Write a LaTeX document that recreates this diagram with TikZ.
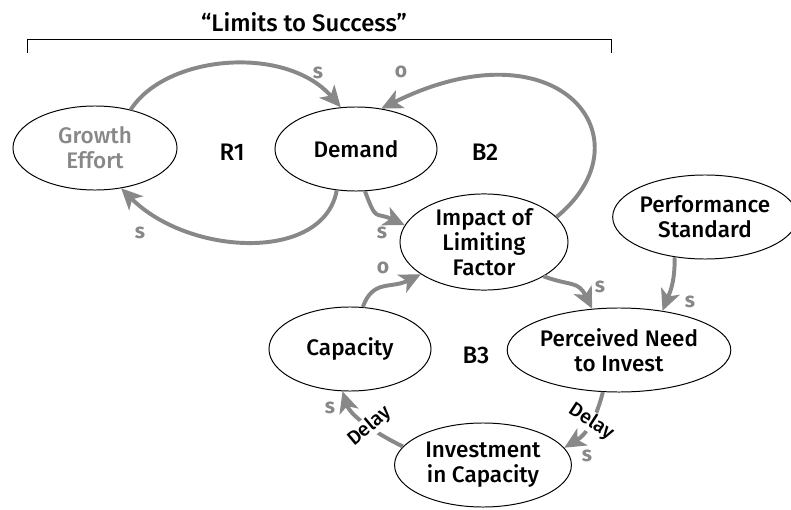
\documentclass[tikz,border=0pt]{standalone}
\usepackage{fontspec}
\setmainfont{Fira Sans}[UprightFont={* Medium}, BoldFont={* Bold}]
\usetikzlibrary{shapes.geometric,arrows.meta}
\definecolor{loopGray}{RGB}{136,136,136}
\tikzset{
  var/.style={ellipse, draw, line width=0.7pt, inner sep=0pt, align=center,
    minimum height=2.1cm, font=\fontsize{16}{18}\selectfont},
  link/.style={loopGray, line width=2.8pt,
    -{Stealth[length=15pt,width=14pt,inset=4pt]}},
  pol/.style={loopGray, font=\bfseries\fontsize{15}{16}\selectfont},
  loopname/.style={font=\fontsize{17}{18}\selectfont},
  delay/.style={fill=white, inner sep=0.5pt, font=\fontsize{14}{15}\selectfont}
}
\begin{document}
\begin{tikzpicture}[x=0.025cm, y=0.025cm]
  \useasboundingbox (0,0) rectangle (791,509);
  % title and bracket
  \node[font=\fontsize{17}{18}\selectfont] (title) at (304,487) {“Limits to Success”};
  \draw[line width=0.7pt] (27,456) -- (27,470) -- (611,470) -- (611,456);
  % variables
  \node[var, minimum width=4.1cm, text=loopGray] (ge) at (95,361) {Growth\\Effort};
  \node[var, minimum width=4.05cm] (dem) at (356,360) {Demand};
  \node[var, minimum width=4.2cm, minimum height=2.2cm] (imp) at (484,267) {Impact of\\Limiting\\Factor};
  \node[var, minimum width=3.95cm] (perf) at (705,292) {Performance\\Standard};
  \node[var, minimum width=4.85cm] (need) at (619,159) {Perceived Need\\to Invest};
  \node[var, minimum width=4.05cm] (cap) at (350,160) {Capacity};
  \node[var, minimum width=4.42cm] (inv) at (483,44) {Investment\\in Capacity};
  % loop names
  \node[loopname] (r1) at (232,357) {R1};
  \node[loopname] (b2) at (485,357) {B2};
  \node[loopname] (b3) at (476,154) {B3};
  % links
  \draw[link] (ge.47) .. controls +(35,55) and +(-55,63) .. (dem.110);
  \draw[link] (imp.19) .. controls +(95,78) and +(178,88) .. (dem.58);
  \draw[link] (dem.245) .. controls +(-13,-72) and +(68,-68) .. (ge.303);
  \draw[link] (dem.282) .. controls +(12,-32) and +(-30,14) .. (imp.168);
  \draw[link] (cap.73) .. controls +(10,28) and +(-30,-15) .. (imp.207);
  \draw[link] (imp.330) .. controls +(28,-10) and +(-14,28) .. (need.123);
  \draw[link] (perf.233) .. controls +(0,-25) and +(8,20) .. (need.42);
  \draw[link] (need.249) .. controls +(-5,-20) and +(25,15) .. (inv.12)
    node[delay, text=black, rotate=-33, pos=0.5] {Delay};
  \draw[link] (inv.167) .. controls +(-25,12) and +(8,-25) .. (cap.260)
    node[delay, text=black, rotate=40, pos=0.45] {Delay};
  % polarities
  \node[pol] (s1) at (318,436) {s};
  \node[pol] (o2) at (401,437) {o};
  \node[pol] (s3) at (140,276) {s};
  \node[pol] (s4) at (382,276) {s};
  \node[pol] (o5) at (383,241) {o};
  \node[pol] (s6) at (600,222) {s};
  \node[pol] (s7) at (690,207) {s};
  \node[pol] (s8) at (587,53) {s};
  \node[pol] (s9) at (330,101) {s};
\end{tikzpicture}
\end{document}
